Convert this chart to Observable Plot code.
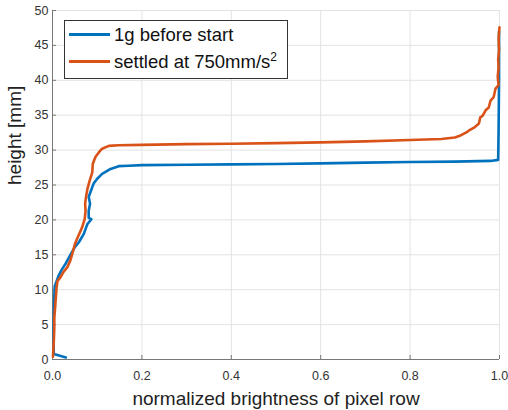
<!DOCTYPE html>
<html>
<head>
<meta charset="utf-8">
<script src="https://cdn.jsdelivr.net/npm/d3@7"></script>
<script src="https://cdn.jsdelivr.net/npm/@observablehq/plot@0.6"></script>
<style>
  body { margin: 0; background: #fff; }
  #wrap { position: relative; width: 508px; height: 410px; font-family: "Liberation Sans", Arial, sans-serif; }
  #legend { position: absolute; left: 64px; top: 20px; width: 222px; height: 57px; border: 1px solid #333; background: #fff; }
  .swatch { position: absolute; left: 4px; width: 41px; height: 3px; }
  .lab { position: absolute; left: 49px; font-size: 18.5px; color: #111; white-space: nowrap; line-height: 20px; }
</style>
</head>
<body>
<div id="wrap"></div>
<script>
// Series: "1g before start"
const blueX = [0.03, 0.003, 0.002, 0.003, 0.004, 0.005, 0.009, 0.013, 0.02, 0.03, 0.04, 0.05, 0.059, 0.07, 0.078, 0.087, 0.081, 0.081, 0.084, 0.081, 0.085, 0.089, 0.092, 0.1, 0.111, 0.13, 0.148, 0.17, 0.2, 0.3, 0.4, 0.5, 0.6, 0.7, 0.8, 0.9, 0.98, 0.997, 0.998, 0.999, 0.999];
const blueY = [0.3, 0.8, 3, 6, 9, 10.5, 11.2, 11.9, 12.8, 13.8, 15, 16.1, 16.8, 18, 19.4, 20.1, 20.3, 21.3, 22.3, 23.3, 24, 24.7, 25.2, 25.9, 26.6, 27.3, 27.7, 27.75, 27.85, 27.9, 27.95, 28.0, 28.1, 28.2, 28.3, 28.35, 28.45, 28.6, 33, 40, 47];
// Series: "settled at 750mm/s²"
const orangeX = [0.001, 0.002, 0.003, 0.004, 0.004, 0.006, 0.007, 0.009, 0.011, 0.018, 0.025, 0.033, 0.04, 0.045, 0.05, 0.055, 0.062, 0.066, 0.072, 0.074, 0.073, 0.075, 0.078, 0.083, 0.089, 0.09, 0.096, 0.104, 0.111, 0.126, 0.148, 0.2, 0.3, 0.4, 0.5, 0.6, 0.7, 0.8, 0.87, 0.9, 0.913, 0.928, 0.931, 0.945, 0.954, 0.957, 0.962, 0.969, 0.976, 0.98, 0.987, 0.991, 0.998, 0.996, 0.998, 0.997, 0.999, 0.998, 1.0];
const orangeY = [0.4, 1.5, 2.7, 4.5, 6, 7.5, 8.5, 10.2, 11.2, 11.8, 12.6, 13.2, 14.2, 15.3, 16.5, 17.3, 18.3, 18.9, 20.1, 21.3, 22.3, 23.3, 24.4, 25.6, 26.8, 28, 29, 29.7, 30.2, 30.6, 30.7, 30.75, 30.85, 30.9, 31.0, 31.1, 31.25, 31.45, 31.6, 31.8, 32.1, 32.6, 32.8, 33.3, 33.8, 34.7, 34.9, 35.7, 36.1, 37.1, 37.6, 38.8, 39.3, 40.5, 41.9, 43, 44.3, 46, 47.6];

const seriesNames = ["1g before start", "settled at 750mm/s²"];
const seriesColors = ["#0072BD", "#D95319"];
const xTicks = [0, 0.2, 0.4, 0.6, 0.8, 1];
const yTicks = [0, 5, 10, 15, 20, 25, 30, 35, 40, 45, 50];
const xLabel = "normalized brightness of pixel row";
const yLabel = "height [mm]";

const blue = blueX.map((x, i) => ({x, y: blueY[i]}));
const orange = orangeX.map((x, i) => ({x, y: orangeY[i]}));

const chart = Plot.plot({
  width: 508,
  height: 410,
  marginLeft: 52,
  marginRight: 9,
  marginTop: 10,
  marginBottom: 51,
  style: { fontFamily: "Liberation Sans, Arial, sans-serif", background: "#fff", overflow: "visible" },
  x: { domain: [0, 1] },
  y: { domain: [0, 50] },
  marks: [
    Plot.gridX(xTicks, { stroke: "#e3e3e3", strokeOpacity: 1 }),
    Plot.gridY(yTicks, { stroke: "#e3e3e3", strokeOpacity: 1 }),
    Plot.ruleX([0], { stroke: "#777" }),
    Plot.ruleY([0], { stroke: "#777" }),
    Plot.axisX({ ticks: xTicks, tickSize: -4, tickPadding: 16, stroke: "#777", fill: "#333", fontSize: 12.5, label: null }),
    Plot.axisY({ ticks: yTicks, tickSize: -4, tickPadding: 8, stroke: "#777", fill: "#333", fontSize: 12.5, label: null }),
    Plot.text([xLabel], { frameAnchor: "bottom", dy: 45, fontSize: 19, fill: "#222", lineAnchor: "bottom" }),
    Plot.text([yLabel], { frameAnchor: "left", dx: -38, rotate: -90, fontSize: 19, fill: "#222" }),
    Plot.line(blue, { x: "x", y: "y", stroke: seriesColors[0], strokeWidth: 2.6, strokeLinejoin: "round" }),
    Plot.line(orange, { x: "x", y: "y", stroke: seriesColors[1], strokeWidth: 2.6, strokeLinejoin: "round" })
  ]
});

const wrap = document.getElementById("wrap");
wrap.appendChild(chart);

const legend = document.createElement("div");
legend.id = "legend";
seriesNames.forEach((name, i) => {
  const sw = document.createElement("div");
  sw.className = "swatch";
  sw.style.background = seriesColors[i];
  sw.style.top = (i === 0 ? 12 : 39) + "px";
  legend.appendChild(sw);
  const lab = document.createElement("div");
  lab.className = "lab";
  lab.style.top = (i === 0 ? 4 : 31) + "px";
  if (name.endsWith("²")) {
    lab.innerHTML = name.slice(0, -1) + '<sup style="font-size:12px;vertical-align:7px;line-height:0">2</sup>';
  } else {
    lab.textContent = name;
  }
  legend.appendChild(lab);
});
wrap.appendChild(legend);
</script>
</body>
</html>
